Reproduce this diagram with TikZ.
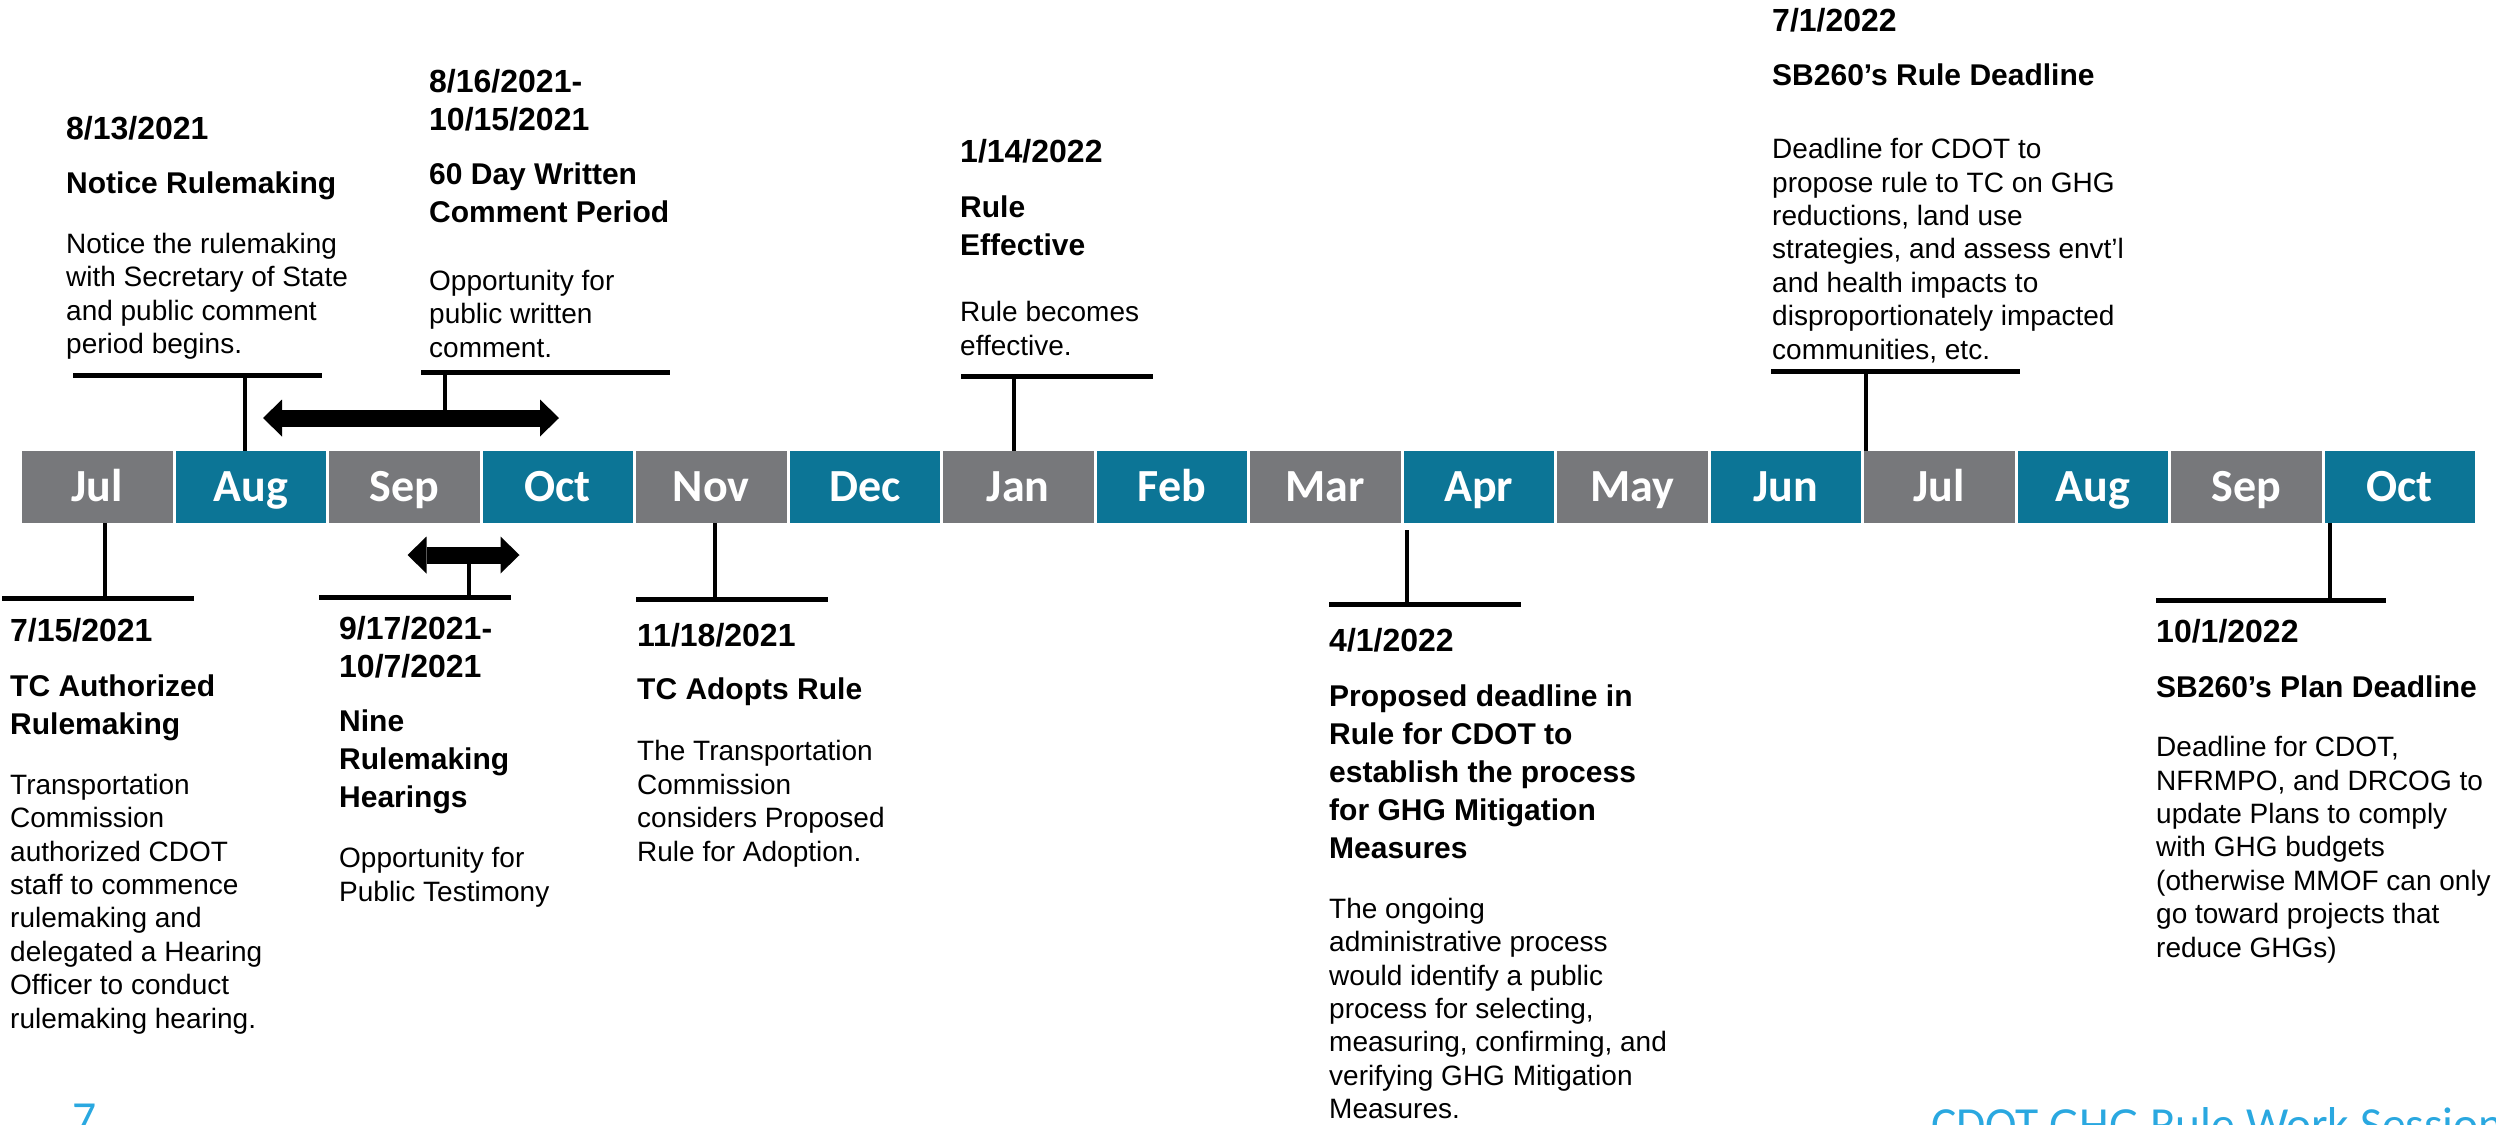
\documentclass[tikz,border=0pt]{standalone}
\usepackage{fontspec}
\setmainfont{Liberation Sans}
\newfontfamily\monthfont{Carlito}
\usepackage{tikz}
\usetikzlibrary{arrows.meta,positioning}
\definecolor{cellgray}{HTML}{77787B}
\definecolor{cellteal}{HTML}{0C7596}
\definecolor{footblue}{HTML}{2AA8E0}
\tikzset{
    monthcell/.style={minimum width=150.5pt,minimum height=72pt,inner sep=0pt,
      text=white,font=\monthfont\bfseries\fontsize{46}{46}\selectfont,
      text height=29.6pt,text depth=0pt},
    % multi-line texts: the base anchor sits on the last line
    datetext/.style={anchor=base west,inner sep=0pt,align=left,
      font=\bfseries\fontsize{32}{38}\selectfont},
    headtext/.style={anchor=base west,inner sep=0pt,align=left,
      font=\bfseries\fontsize{30}{38}\selectfont},
    bodytext/.style={anchor=base west,inner sep=0pt,align=left,
      font=\fontsize{28}{33.4}\selectfont},
    foottext/.style={anchor=base west,inner sep=0pt,text=footblue,
      font=\monthfont\fontsize{47.5}{47.5}\selectfont},
    bracketbar/.style={line width=5pt},
    bracketstem/.style={line width=4pt},
    spanarrow/.style={line width=17pt,
      {Triangle[length=19pt,width=37pt,line width=0pt]}-{Triangle[length=19pt,width=37pt,line width=0pt]}}
}

\begin{document}
\begin{tikzpicture}[x=1pt,y=-1pt]
  \useasboundingbox (0,0) rectangle (2496,1124);
  \clip (0,0) rectangle (2496,1124);

  % month bar
  \foreach \mon [count=\i] in {Jul,Aug,Sep,Oct,Nov,Dec,Jan,Feb,Mar,Apr,May,Jun,Jul,Aug,Sep,Oct}{
    \ifodd\i \def\cellcol{cellgray}\else \def\cellcol{cellteal}\fi
    \node[monthcell,fill=\cellcol] (m\i) at ({97.25+(\i-1)*153.5},487) {\mon};
  }

  % events above the bar
  \node[datetext] (d1) at (66,139) {8/13/2021};
  \node[headtext] (t1) at (66,193) {Notice Rulemaking};
  \node[bodytext] (x1) at (66,353.7) {Notice the rulemaking\\with Secretary of State\\and public comment\\period begins.};

  \node[datetext] (d2) at (429,130) {8/16/2021-\\10/15/2021};
  \node[headtext] (t2) at (429,222) {60 Day Written\\Comment Period};
  \node[bodytext] (x2) at (429,357) {Opportunity for\\public written\\comment.};

  \node[datetext] (d3) at (960,162.5) {1/14/2022};
  \node[headtext] (t3) at (960,255) {Rule\\Effective};
  \node[bodytext] (x3) at (960,355) {Rule becomes\\effective.};

  \node[datetext] (d4) at (1772,31.4) {7/1/2022};
  \node[headtext] (t4) at (1772,85) {SB260’s Rule Deadline};
  \node[bodytext] (x4) at (1772,359) {Deadline for CDOT to\\propose rule to TC on GHG\\reductions, land use\\strategies, and assess envt’l\\and health impacts to\\disproportionately impacted\\communities, etc.};

  % events below the bar
  \node[datetext] (d5) at (10,641) {7/15/2021};
  \node[headtext] (t5) at (10,734) {TC Authorized\\Rulemaking};
  \node[bodytext] (x5) at (10,1028) {Transportation\\Commission\\authorized CDOT\\staff to commence\\rulemaking and\\delegated a Hearing\\Officer to conduct\\rulemaking hearing.};

  \node[datetext] (d6) at (339,677) {9/17/2021-\\10/7/2021};
  \node[headtext] (t6) at (339,807) {Nine\\Rulemaking\\Hearings};
  \node[bodytext] (x6) at (339,901) {Opportunity for\\Public Testimony};

  \node[datetext] (d7) at (637,646) {11/18/2021};
  \node[headtext] (t7) at (637,699) {TC Adopts Rule};
  \node[bodytext] (x7) at (637,861) {The Transportation\\Commission\\considers Proposed\\Rule for Adoption.};

  \node[datetext] (d8) at (1329,651) {4/1/2022};
  \node[headtext] (t8) at (1329,858) {Proposed deadline in\\Rule for CDOT to\\establish the process\\for GHG Mitigation\\Measures};
  \node[bodytext] (x8) at (1329,1118.7) {The ongoing\\administrative process\\would identify a public\\process for selecting,\\measuring, confirming, and\\verifying GHG Mitigation\\Measures.};

  \node[datetext] (d9) at (2156,642) {10/1/2022};
  \node[headtext] (t9) at (2156,697) {SB260’s Plan Deadline};
  \node[bodytext] (x9) at (2156,957) {Deadline for CDOT,\\NFRMPO, and DRCOG to\\update Plans to comply\\with GHG budgets\\(otherwise MMOF can only\\go toward projects that\\reduce GHGs)};

  % brackets and stems
  \coordinate (b1a) at (73,375);   \coordinate (b1b) at (322,375);   \coordinate (s1) at (245,375);
  \coordinate (b2a) at (421,372);  \coordinate (b2b) at (670,372);   \coordinate (s2) at (445,372);
  \coordinate (b3a) at (961,376);  \coordinate (b3b) at (1153,376);  \coordinate (s3) at (1013.5,376);
  \coordinate (b4a) at (1771,371); \coordinate (b4b) at (2020,371);  \coordinate (s4) at (1866,371);
  \coordinate (b5a) at (2,598);    \coordinate (b5b) at (193.5,598); \coordinate (s5) at (105,598);
  \coordinate (b6a) at (319,597);  \coordinate (b6b) at (511,597);   \coordinate (s6) at (469,597);
  \coordinate (b7a) at (636,599);  \coordinate (b7b) at (828,599);   \coordinate (s7) at (714.6,599);
  \coordinate (b8a) at (1329,604); \coordinate (b8b) at (1521,604);  \coordinate (s8) at (1407,604);
  \coordinate (b9a) at (2156,600); \coordinate (b9b) at (2386,600);  \coordinate (s9) at (2330,600);
  \foreach \k in {1,...,9}{
    \draw[bracketbar] (b\k a) -- (b\k b);
  }

  % double arrows for the two periods
  \coordinate (a1l) at (263,418);   \coordinate (a1r) at (559,418);
  \coordinate (a2l) at (407.5,555); \coordinate (a2r) at (519.5,555);
  \draw[spanarrow] (a1l) -- (a1r);
  \draw[spanarrow] (a2l) -- (a2r);

  \draw[bracketstem] (s1) -- (s1 |- m2.north);
  \draw[bracketstem] (s2) -- (s2 |- a1l);
  \draw[bracketstem] (s3) -- (s3 |- m7.north);
  \draw[bracketstem] (s4) -- (s4 |- m13.north);
  \draw[bracketstem] (s5) -- (s5 |- m1.south);
  \draw[bracketstem] (s6) -- (s6 |- a2l);
  \draw[bracketstem] (s7) -- (s7 |- m5.south);
  \draw[bracketstem] (s8) -- ([yshift=-7pt]s8 |- m10.south);
  \draw[bracketstem] (s9) -- (s9 |- m16.south);

  % footer
  \node[foottext] (pg) at (72,1134) {7};
  \node[foottext] (ft) at (1931,1140) {CDOT GHG Rule Work Session};
\end{tikzpicture}
\end{document}
